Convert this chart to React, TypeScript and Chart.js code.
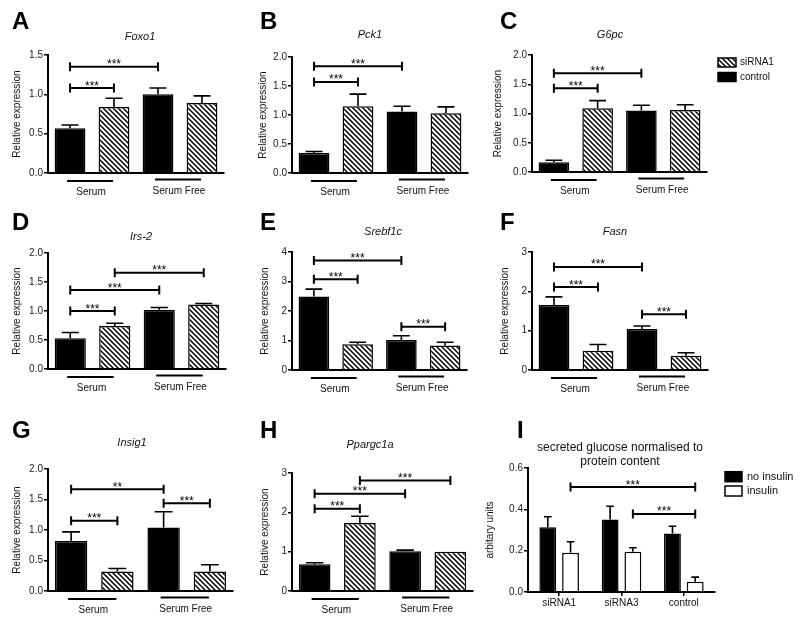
import React, { useEffect, useRef } from 'react';
import { Chart, registerables } from 'chart.js';

Chart.register(...registerables);

const FONT = '"Liberation Sans", Arial, Helvetica, sans-serif';

// ---------------- data ----------------
const groupLabels = ['Serum', 'Serum Free'];
const barCategories = ['Serum control', 'Serum siRNA1', 'Serum Free control', 'Serum Free siRNA1'];
const barFills = ['black', 'hatch', 'black', 'hatch'];
const conditionLegend = ['siRNA1', 'control'];
const conditionLegendFills = ['hatch', 'black'];

const foxo1Means = [0.57, 0.84, 1.0, 0.89];
const foxo1Errors = [0.04, 0.11, 0.08, 0.09];
const foxo1Brackets: [number, number, number, string][] = [[0, 1, 1.08, '***'], [0, 2, 1.35, '***']];

const pck1Means = [0.345, 1.15, 1.06, 1.03];
const pck1Errors = [0.025, 0.21, 0.09, 0.11];
const pck1Brackets: [number, number, number, string][] = [[0, 1, 1.57, '***'], [0, 2, 1.84, '***']];

const g6pcMeans = [0.166, 1.09, 1.05, 1.06];
const g6pcErrors = [0.034, 0.13, 0.09, 0.09];
const g6pcBrackets: [number, number, number, string][] = [[0, 1, 1.43, '***'], [0, 2, 1.69, '***']];

const irs2Means = [0.53, 0.74, 1.02, 1.11];
const irs2Errors = [0.1, 0.05, 0.04, 0.02];
const irs2Brackets: [number, number, number, string][] = [[0, 1, 1.0, '***'], [0, 2, 1.36, '***'], [1, 3, 1.66, '***']];

const srebf1cMeans = [2.49, 0.87, 1.02, 0.83];
const srebf1cErrors = [0.25, 0.07, 0.14, 0.11];
const srebf1cBrackets: [number, number, number, string][] = [[0, 1, 3.08, '***'], [0, 2, 3.71, '***'], [2, 3, 1.47, '***']];

const fasnMeans = [1.65, 0.49, 1.04, 0.36];
const fasnErrors = [0.21, 0.16, 0.08, 0.08];
const fasnBrackets: [number, number, number, string][] = [[0, 1, 2.11, '***'], [0, 2, 2.62, '***'], [2, 3, 1.42, '***']];

const insig1Means = [0.82, 0.32, 1.04, 0.32];
const insig1Errors = [0.15, 0.05, 0.26, 0.11];
const insig1Brackets: [number, number, number, string][] = [[0, 1, 1.15, '***'], [0, 2, 1.67, '**'], [2, 3, 1.44, '***']];

const ppargc1aMeans = [0.68, 1.73, 1.01, 1.0];
const ppargc1aErrors = [0.04, 0.17, 0.03, 0.0];
const ppargc1aBrackets: [number, number, number, string][] = [[0, 1, 2.09, '***'], [0, 2, 2.47, '***'], [1, 3, 2.81, '***']];

const glucoseCategories = ['siRNA1', 'siRNA3', 'control'];
const glucoseSeriesLabels = ['no insulin', 'insulin'];
const glucoseSeriesFills = ['black', 'white'];
const glucoseNoInsulinMeans = [0.313, 0.351, 0.283];
const glucoseNoInsulinErrors = [0.051, 0.064, 0.035];
const glucoseInsulinMeans = [0.19, 0.195, 0.05];
const glucoseInsulinErrors = [0.053, 0.019, 0.022];
// bar indices: 0 siRNA1/no, 1 siRNA1/ins, 2 siRNA3/no, 3 siRNA3/ins, 4 control/no, 5 control/ins
const glucoseBrackets: [number, number, number, string][] = [[1, 5, 0.508, '***'], [3, 5, 0.378, '***']];

// ---------------- config ----------------
type Series = { label: string; means: number[]; errors: number[]; fills: string[] };
type Legend = { labels: string[]; fills: string[]; x: number; y: number; dy: number; w: number; h: number; textX: number; size: number };
interface PanelCfg {
  key: string;
  letter: string; letterX: number; letterY: number;
  title: string[]; titleItalic: boolean; titleX: number; titleY: number; titleSize: number;
  yTitle: string; yTitleX: number;
  canvas: [number, number, number, number];
  area: [number, number, number, number];
  yMax: number; yStep: number; yDec: number;
  categories: string[];
  series: Series[];
  grouped: boolean;
  barPct: number; catPct: number; capFrac: number;
  brackets: [number, number, number, string][];
  groups?: string[];
  legend?: Legend;
}

const geneSeries = (means: number[], errors: number[]): Series[] => [
  { label: 'expression', means, errors, fills: barFills },
];

const common = {
  categories: barCategories, grouped: false, barPct: 0.7, catPct: 1, capFrac: 0.55,
  titleItalic: true, titleSize: 11, yTitle: 'Relative expression', groups: groupLabels,
};

const panels: PanelCfg[] = [
  { ...common, key: 'A', letter: 'A', letterX: 12, letterY: 29, title: ['Foxo1'], titleX: 140, titleY: 37, yTitleX: 17,
    canvas: [0, 0, 250, 205], area: [48, 224, 55, 173], yMax: 1.5, yStep: 0.5, yDec: 1,
    series: geneSeries(foxo1Means, foxo1Errors), brackets: foxo1Brackets },
  { ...common, key: 'B', letter: 'B', letterX: 260, letterY: 29, title: ['Pck1'], titleX: 370, titleY: 35, yTitleX: 263,
    canvas: [250, 0, 234, 205], area: [292, 468, 57, 173], yMax: 2, yStep: 0.5, yDec: 1,
    series: geneSeries(pck1Means, pck1Errors), brackets: pck1Brackets },
  { ...common, key: 'C', letter: 'C', letterX: 500, letterY: 29, title: ['G6pc'], titleX: 610, titleY: 35, yTitleX: 498,
    canvas: [484, 0, 316, 205], area: [532, 707, 55, 172], yMax: 2, yStep: 0.5, yDec: 1,
    series: geneSeries(g6pcMeans, g6pcErrors), brackets: g6pcBrackets,
    legend: { labels: conditionLegend, fills: conditionLegendFills, x: 718, y: 62.5, dy: 14.5, w: 18, h: 9, textX: 740, size: 10 } },
  { ...common, key: 'D', letter: 'D', letterX: 12, letterY: 230, title: ['Irs-2'], titleX: 141, titleY: 237, yTitleX: 17,
    canvas: [0, 205, 250, 205], area: [48, 226, 253, 369], yMax: 2, yStep: 0.5, yDec: 1,
    series: geneSeries(irs2Means, irs2Errors), brackets: irs2Brackets },
  { ...common, key: 'E', letter: 'E', letterX: 260, letterY: 230, title: ['Srebf1c'], titleX: 383, titleY: 232, yTitleX: 265,
    canvas: [250, 205, 234, 205], area: [292, 467, 252, 370], yMax: 4, yStep: 1, yDec: 0,
    series: geneSeries(srebf1cMeans, srebf1cErrors), brackets: srebf1cBrackets },
  { ...common, key: 'F', letter: 'F', letterX: 500, letterY: 230, title: ['Fasn'], titleX: 615, titleY: 232, yTitleX: 505,
    canvas: [484, 205, 316, 205], area: [532, 708, 252, 370], yMax: 3, yStep: 1, yDec: 0,
    series: geneSeries(fasnMeans, fasnErrors), brackets: fasnBrackets },
  { ...common, key: 'G', letter: 'G', letterX: 12, letterY: 438, title: ['Insig1'], titleX: 132, titleY: 443, yTitleX: 17,
    canvas: [0, 410, 250, 212], area: [48, 233, 469, 591], yMax: 2, yStep: 0.5, yDec: 1,
    series: geneSeries(insig1Means, insig1Errors), brackets: insig1Brackets },
  { ...common, key: 'H', letter: 'H', letterX: 260, letterY: 438, title: ['Ppargc1a'], titleX: 370, titleY: 445, yTitleX: 265,
    canvas: [250, 410, 234, 212], area: [292, 473, 473, 591], yMax: 3, yStep: 1, yDec: 0,
    series: geneSeries(ppargc1aMeans, ppargc1aErrors), brackets: ppargc1aBrackets },
  { key: 'I', letter: 'I', letterX: 517, letterY: 438,
    title: ['secreted glucose normalised to', 'protein content'], titleItalic: false, titleX: 620, titleY: 448, titleSize: 12,
    yTitle: 'arbitary units', yTitleX: 490,
    canvas: [484, 410, 316, 212], area: [528, 715, 468, 592], yMax: 0.6, yStep: 0.2, yDec: 1,
    categories: glucoseCategories, grouped: true, barPct: 0.74, catPct: 0.73, capFrac: 0.45,
    series: [
      { label: glucoseSeriesLabels[0], means: glucoseNoInsulinMeans, errors: glucoseNoInsulinErrors, fills: glucoseCategories.map(() => glucoseSeriesFills[0]) },
      { label: glucoseSeriesLabels[1], means: glucoseInsulinMeans, errors: glucoseInsulinErrors, fills: glucoseCategories.map(() => glucoseSeriesFills[1]) },
    ],
    brackets: glucoseBrackets,
    legend: { labels: glucoseSeriesLabels, fills: glucoseSeriesFills, x: 725, y: 476.7, dy: 14.3, w: 17, h: 10, textX: 747, size: 11 } },
];

// ---------------- drawing helpers ----------------
function makeHatch(): CanvasPattern | string {
  const s = 5;
  const c = document.createElement('canvas');
  c.width = s;
  c.height = s;
  const g = c.getContext('2d');
  if (!g) return '#888';
  g.fillStyle = '#fff';
  g.fillRect(0, 0, s, s);
  g.strokeStyle = '#000';
  g.lineWidth = 1.5;
  g.beginPath();
  g.moveTo(-1, -1); g.lineTo(s + 1, s + 1);
  g.moveTo(-1, s - 1); g.lineTo(1, s + 1);
  g.moveTo(s - 1, -1); g.lineTo(s + 1, 1);
  g.stroke();
  return g.createPattern(c, 'repeat') ?? '#888';
}

function decorPlugin(cfg: PanelCfg, paint: (f: string) => any) {
  return {
    id: 'decor' + cfg.key,
    afterDatasetsDraw(chart: any) {
      const ctx: CanvasRenderingContext2D = chart.ctx;
      const [cx, cy] = cfg.canvas;
      const ys = chart.scales.y;
      const area = chart.chartArea;
      const n = cfg.series.length;
      const bar = (k: number) => {
        const ds = cfg.grouped ? k % n : 0;
        const i = cfg.grouped ? Math.floor(k / n) : k;
        return chart.getDatasetMeta(ds).data[i] as any;
      };
      ctx.save();
      ctx.strokeStyle = '#000';
      ctx.fillStyle = '#000';
      // error bars (upper only)
      cfg.series.forEach((s, ds) => {
        const meta = chart.getDatasetMeta(ds);
        s.means.forEach((m, i) => {
          const e = s.errors[i];
          if (!(e > 0.004)) return;
          const el = meta.data[i] as any;
          const yTop = ys.getPixelForValue(m + e);
          const yBar = ys.getPixelForValue(m);
          const half = (el.width * cfg.capFrac) / 2;
          ctx.lineWidth = 1.6;
          ctx.beginPath();
          ctx.moveTo(el.x, yBar);
          ctx.lineTo(el.x, yTop);
          ctx.moveTo(el.x - half, yTop);
          ctx.lineTo(el.x + half, yTop);
          ctx.stroke();
        });
      });
      // significance brackets
      ctx.font = `12px ${FONT}`;
      ctx.textAlign = 'center';
      ctx.textBaseline = 'alphabetic';
      cfg.brackets.forEach(([a, b, v, lab]) => {
        const x1 = bar(a).x;
        const x2 = bar(b).x;
        const y = ys.getPixelForValue(v);
        ctx.lineWidth = 2;
        ctx.beginPath();
        ctx.moveTo(x1, y); ctx.lineTo(x2, y);
        ctx.moveTo(x1, y - 4.5); ctx.lineTo(x1, y + 4.5);
        ctx.moveTo(x2, y - 4.5); ctx.lineTo(x2, y + 4.5);
        ctx.stroke();
        ctx.fillText(lab, (x1 + x2) / 2, y + 1.5);
      });
      // group underlines and labels
      if (cfg.groups) {
        cfg.groups.forEach((g, gi) => {
          const x0 = bar(gi * 2).x;
          const x1 = bar(gi * 2 + 1).x;
          const uy = area.bottom + (gi === 0 ? 8 : 6.5);
          ctx.lineWidth = 2;
          ctx.beginPath();
          ctx.moveTo(x0 - 3, uy);
          ctx.lineTo(x1 - 1, uy);
          ctx.stroke();
          ctx.font = `10px ${FONT}`;
          ctx.textBaseline = 'middle';
          ctx.textAlign = 'center';
          ctx.fillStyle = '#111';
          ctx.fillText(g, (x0 + x1) / 2 - 1, area.bottom + (gi === 0 ? 19 : 18));
          ctx.fillStyle = '#000';
        });
      }
      // title
      ctx.font = `${cfg.titleItalic ? 'italic ' : ''}${cfg.titleSize}px ${FONT}`;
      ctx.textAlign = 'center';
      ctx.textBaseline = 'middle';
      ctx.fillStyle = '#111';
      cfg.title.forEach((t, i) => ctx.fillText(t, cfg.titleX - cx, cfg.titleY - cy + i * 14));
      // y title
      ctx.save();
      ctx.translate(cfg.yTitleX - cx, (area.top + area.bottom) / 2);
      ctx.rotate(-Math.PI / 2);
      ctx.font = `10px ${FONT}`;
      ctx.fillText(cfg.yTitle, 0, 0);
      ctx.restore();
      // panel letter
      ctx.font = `bold 24px ${FONT}`;
      ctx.textAlign = 'left';
      ctx.textBaseline = 'alphabetic';
      ctx.fillStyle = '#000';
      ctx.fillText(cfg.letter, cfg.letterX - cx, cfg.letterY - cy);
      // legend
      if (cfg.legend) {
        const lg = cfg.legend;
        lg.labels.forEach((lab, i) => {
          const yc = lg.y - cy + i * lg.dy;
          const rx = lg.x - cx;
          ctx.fillStyle = paint(lg.fills[i]);
          ctx.fillRect(rx, yc - lg.h / 2, lg.w, lg.h);
          ctx.lineWidth = 1.5;
          ctx.strokeStyle = '#000';
          ctx.strokeRect(rx, yc - lg.h / 2, lg.w, lg.h);
          ctx.fillStyle = '#111';
          ctx.font = `${lg.size}px ${FONT}`;
          ctx.textBaseline = 'middle';
          ctx.fillText(lab, lg.textX - cx, yc);
        });
      }
      ctx.restore();
    },
  };
}

function PanelChart({ cfg }: { cfg: PanelCfg }) {
  const ref = useRef<HTMLCanvasElement>(null);
  const [cx, cy, cw, ch] = cfg.canvas;
  useEffect(() => {
    const canvas = ref.current;
    if (!canvas) return;
    const hatch = makeHatch();
    const paint = (f: string) => (f === 'hatch' ? hatch : f === 'white' ? '#ffffff' : '#000000');
    const [L, R, T, B] = cfg.area;
    const datasets = cfg.series.map((s) => ({
      label: s.label,
      data: s.means,
      backgroundColor: s.fills.map(paint),
      borderColor: '#000',
      borderWidth: 1.5,
      barPercentage: cfg.barPct,
      categoryPercentage: cfg.catPct,
    }));
    const chart = new Chart(canvas, {
      type: 'bar',
      data: { labels: cfg.categories, datasets: datasets as any },
      options: {
        responsive: false,
        animation: false,
        devicePixelRatio: 1,
        layout: { padding: { left: 0, top: T - cy, right: cx + cw - R, bottom: 0 } },
        plugins: { legend: { display: false }, tooltip: { enabled: false }, title: { display: false } },
        scales: {
          x: {
            grid: { display: cfg.grouped, drawOnChartArea: false, offset: false, tickLength: 4, color: '#000', lineWidth: 1.5 },
            border: { display: true, color: '#000', width: 2 },
            ticks: { display: cfg.grouped, color: '#111', font: { family: FONT, size: 10 }, padding: 1, maxRotation: 0 },
            afterFit: (s: any) => { s.height = cy + ch - B; },
          },
          y: {
            min: 0,
            max: cfg.yMax,
            grid: { drawOnChartArea: false, tickLength: 4, color: '#000', lineWidth: 1.5 },
            border: { display: true, color: '#000', width: 2 },
            ticks: {
              stepSize: cfg.yStep,
              color: '#222',
              font: { family: FONT, size: 10 },
              padding: 1,
              callback: (v: any) => Number(v).toFixed(cfg.yDec),
            },
            afterFit: (s: any) => { s.width = L - cx; },
          },
        },
      } as any,
      plugins: [decorPlugin(cfg, paint)],
    });
    return () => chart.destroy();
  }, [cfg]);
  return (
    <canvas
      ref={ref}
      width={cw}
      height={ch}
      style={{ position: 'absolute', left: cx, top: cy, width: cw, height: ch }}
    />
  );
}

export default function App() {
  return (
    <div style={{ position: 'absolute', left: 0, top: 0, width: 800, height: 622, background: '#fff', overflow: 'hidden' }}>
      {panels.map((p) => (
        <PanelChart key={p.key} cfg={p} />
      ))}
    </div>
  );
}
